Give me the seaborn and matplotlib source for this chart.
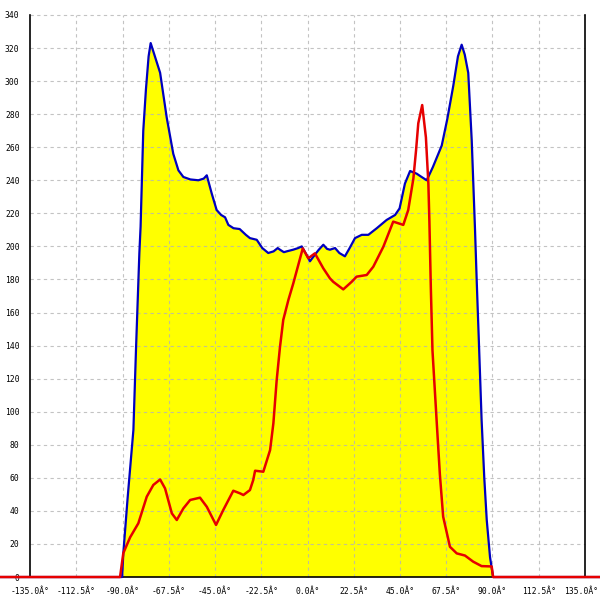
#!/usr/bin/env python3
"""Angle distribution chart: yellow filled envelope with a red overlay."""

import matplotlib

matplotlib.use("Agg")

import matplotlib.pyplot as plt
import matplotlib.transforms as mtransforms
import pandas as pd
import seaborn as sns

# blue envelope (filled yellow)
blue_angle = [
    -180.0, -91.0, -90.2, -89.6, -87.5, -84.7, -83.4, -81.8, -81.2, -79.9,
    -78.6, -77.3, -76.3, -74.0, -71.7, -68.5, -65.3, -62.8, -60.4, -57.0,
    -53.1, -50.5, -49.0, -46.6, -44.2, -42.0, -40.1, -38.5, -36.0, -33.0,
    -30.0, -28.0, -24.7, -22.0, -19.1, -16.5, -14.5, -13.4, -11.5, -10.1,
    -7.0, -4.5, -2.8, -0.5, 1.2, 3.6, 5.5, 7.7, 9.5, 10.9,
    13.4, 15.5, 18.2, 20.5, 23.1, 26.4, 29.6, 33.7, 38.5, 42.6,
    44.8, 47.4, 49.9, 53.1, 55.5, 58.0, 61.0, 65.3, 68.0, 70.9,
    73.2, 75.0, 76.5, 78.2, 79.9, 81.5, 82.3, 83.5, 84.7, 86.0,
    87.2, 88.8, 90.3, 180.0,
]
blue_count = [
    0, 0, 0, 14.5, 48, 89, 139, 196, 212, 270,
    295, 315, 323, 314, 305, 278, 256, 246, 242, 240.5,
    240, 241, 243, 232, 222, 219, 217.6, 213, 211, 210.5,
    207, 205, 204, 199, 196, 197, 199, 198, 196.5, 197,
    198, 199, 200, 195, 191, 195, 198, 201, 198.5, 198,
    199, 196, 194, 199, 205, 207, 207, 211, 216, 219,
    223, 238, 245.6, 244, 242, 240, 248, 261, 277, 297,
    315, 322, 316, 305, 264, 210, 180, 138, 95, 60,
    34.5, 12, 0, 0,
]

# red overlay
red_angle = [
    -180.0, -91.2, -89.6, -86.3, -82.3, -78.2, -75.0, -71.7, -69.3, -66.0,
    -63.6, -60.4, -57.1, -52.3, -49.0, -44.5, -41.0, -36.1, -32.8, -31.2,
    -28.0, -26.4, -25.5, -21.5, -18.2, -16.6, -15.0, -13.4, -11.8, -9.3,
    -6.9, -4.5, -2.3, 0.4, 3.6, 7.7, 10.9, 12.5, 17.4, 21.5,
    23.9, 28.8, 32.0, 36.9, 41.7, 46.6, 49.0, 51.5, 52.8, 53.9,
    55.8, 57.6, 58.8, 59.3, 60.0, 60.8, 62.8, 64.4, 66.0, 69.3,
    72.6, 76.6, 80.6, 84.7, 89.6, 90.3, 180.0,
]
red_count = [
    0, 0, 14.5, 24, 32.5, 48.6, 55.7, 59, 53.6, 38.5,
    34.5, 41.5, 46.6, 48, 42.5, 31.5, 40.5, 52.2, 50.6, 49.6,
    52.6, 58.7, 64.3, 63.7, 76.8, 93, 119, 139, 155.5, 167.6,
    177.7, 188.7, 198.8, 192.8, 195.8, 186.7, 180.7, 178.6, 174, 178.6,
    181.7, 182.7, 187.7, 199.8, 215, 213, 222, 241, 258, 274.5,
    285.5, 266, 238, 215, 175, 137, 95, 62, 36.5, 18.3,
    14.3, 13, 9.3, 6.6, 6.4, 0, 0,
]

x_ticks = [-135.0, -112.5, -90.0, -67.5, -45.0, -22.5, 0.0,
           22.5, 45.0, 67.5, 90.0, 112.5, 135.0]
x_tick_labels = [f"{v:.1f}Â°" for v in x_ticks]
y_ticks = list(range(0, 341, 20))


def main() -> None:
    sns.set_style("white")
    plt.rcParams["font.family"] = ["DejaVu Sans Mono"]

    blue = pd.DataFrame({"angle": blue_angle, "count": blue_count})
    red = pd.DataFrame({"angle": red_angle, "count": red_count})

    fig = plt.figure(figsize=(6, 6), dpi=100)
    ax = fig.add_axes([0, 20 / 600, 1, 570 / 600])
    ax.set_xlim(-149.6, 142.3)
    ax.set_ylim(-1.8, 343.0)

    ax.fill_between(blue["angle"], blue["count"], color="#ffff00", lw=0, zorder=1)

    grid_kw = dict(colors="#b4b4b4", linestyles=(0, (3, 3)), lw=0.8, alpha=0.8, zorder=2)
    ax.hlines(y_ticks[1:], x_ticks[0], x_ticks[-1], **grid_kw)
    ax.vlines(x_ticks[1:-1], y_ticks[0], y_ticks[-1], **grid_kw)

    sns.lineplot(data=blue, x="angle", y="count", color="#0000c0", lw=1.6,
                 ax=ax, sort=False, estimator=None, zorder=3)
    line = sns.lineplot(data=red, x="angle", y="count", color="#e60000", lw=1.8,
                        ax=ax, sort=False, estimator=None, zorder=4)
    for ln in line.lines[1:]:
        ln.set_clip_on(False)

    ax.spines["top"].set_visible(False)
    ax.spines["left"].set_position(("data", x_ticks[0]))
    ax.spines["left"].set_bounds(y_ticks[0], y_ticks[-1])
    ax.spines["right"].set_position(("data", x_ticks[-1]))
    ax.spines["right"].set_bounds(y_ticks[0], y_ticks[-1])
    ax.spines["bottom"].set_position(("data", 0))
    ax.spines["bottom"].set_bounds(x_ticks[0], x_ticks[-1])
    for side in ("left", "right", "bottom"):
        ax.spines[side].set_color("black")
        ax.spines[side].set_linewidth(1.2)

    ax.set_xticks(x_ticks, x_tick_labels)
    ax.set_yticks(y_ticks, [str(v) for v in y_ticks])
    ax.tick_params(axis="both", direction="out", length=5, width=1,
                   colors="black", labelsize=5.8, pad=2.5)
    ax.tick_params(axis="y", right=False)
    ax.set_xlabel("")
    ax.set_ylabel("")

    # keep the last angle label inside the canvas
    last = ax.get_xticklabels()[-1]
    last.set_transform(last.get_transform()
                       + mtransforms.ScaledTranslation(-4 / 100, 0, fig.dpi_scale_trans))

    fig.savefig("out.png", dpi=100)


if __name__ == "__main__":
    main()
